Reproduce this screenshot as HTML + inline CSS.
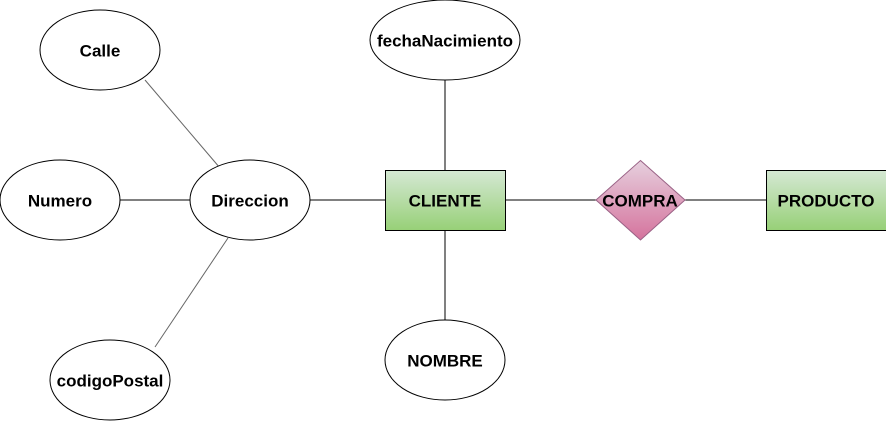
<!DOCTYPE html>
<html><head><style>body{margin:0;background:#fff}svg{display:block}text{font-family:"Liberation Sans",Arial,sans-serif;font-weight:bold;font-size:17px;text-anchor:middle;dominant-baseline:central}</style></head>
<body>
<svg width="886" height="421" viewBox="0 0 886 421">
<defs>
<linearGradient id="g" x1="0" y1="0" x2="0" y2="1"><stop offset="0" stop-color="#d5e8d4"/><stop offset="1" stop-color="#97d077"/></linearGradient>
<linearGradient id="p" x1="0" y1="0" x2="0" y2="1"><stop offset="0" stop-color="#e6d0de"/><stop offset="1" stop-color="#d5739d"/></linearGradient>
</defs>
<g stroke="#000" stroke-width="1">
<line x1="145" y1="80" x2="220" y2="168" stroke="#666"/>
<line x1="155" y1="347" x2="228" y2="238" stroke="#666"/>
<line x1="120" y1="200" x2="190" y2="200"/>
<line x1="310" y1="200" x2="385" y2="200"/>
<line x1="505" y1="200" x2="597" y2="200"/>
<line x1="684" y1="200" x2="766" y2="200"/>
<line x1="445" y1="80" x2="445" y2="170"/>
<line x1="445" y1="230" x2="445" y2="320"/>
<g fill="#fff">
<ellipse cx="100" cy="50" rx="60" ry="40"/>
<ellipse cx="445" cy="40" rx="75" ry="40"/>
<ellipse cx="60" cy="200" rx="60" ry="40"/>
<ellipse cx="250" cy="200" rx="60" ry="40"/>
<ellipse cx="110" cy="380" rx="60" ry="40"/>
<ellipse cx="445" cy="360" rx="60" ry="40"/>
</g>
<rect x="385.5" y="170.5" width="120" height="60" fill="url(#g)"/>
<rect x="766.5" y="170.5" width="120" height="60" fill="url(#g)"/>
<polygon points="640.5,160.5 685,200 640.5,240 596,200" fill="url(#p)" stroke="#996185"/>
</g>
<text x="100" y="51">Calle</text>
<text x="445" y="41">fechaNacimiento</text>
<text x="60" y="201">Numero</text>
<text x="250" y="201">Direccion</text>
<text x="110" y="381">codigoPostal</text>
<text x="445" y="361">NOMBRE</text>
<text x="445" y="201">CLIENTE</text>
<text x="640" y="201">COMPRA</text>
<text x="826" y="201">PRODUCTO</text>
</svg>
</body></html>
